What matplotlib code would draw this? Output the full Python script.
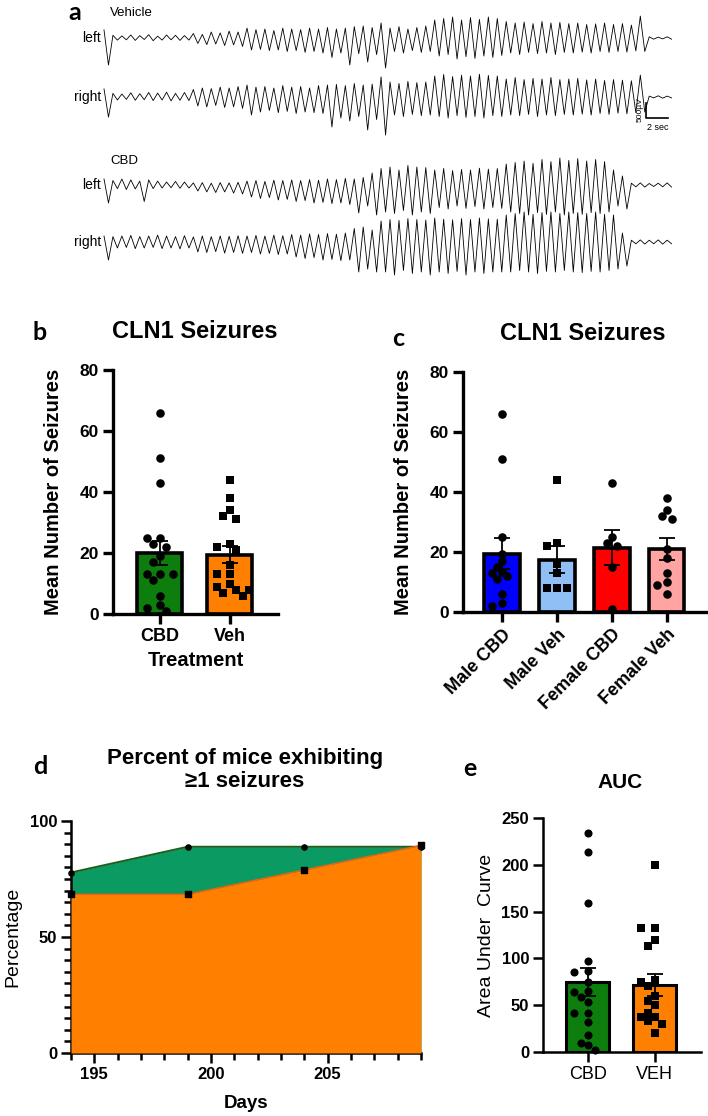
import numpy as np
import matplotlib
matplotlib.use("Agg")
import matplotlib.pyplot as plt
from matplotlib.ticker import MultipleLocator

plt.rcParams['font.family'] = ['Liberation Sans', 'DejaVu Sans']

W, H = 708, 1116

# ---------------- panel a: EEG envelopes, µV above / below baseline per slice
veh_left_up = [270, 90, 70, 100, 80, 110, 60, 100, 90, 80, 150, 120, 200, 170, 230, 200,
               330, 280, 300, 250, 330, 300, 280, 330, 300, 350, 300, 330, 380, 400, 350, 500,
               330, 380, 300, 350, 400, 600, 650, 700, 600, 680, 620, 700, 650, 550, 500, 530,
               480, 550, 500, 520, 480, 500, 450, 470, 500, 450, 480, 430, 730, 40, 30, 40]
veh_left_dn = [900, 70, 60, 80, 50, 90, 70, 60, 80, 70, 180, 220, 200, 250, 230, 280,
               400, 380, 420, 400, 450, 420, 480, 450, 500, 650, 500, 900, 520, 800, 550, 1000,
               450, 500, 420, 480, 450, 600, 550, 700, 620, 680, 600, 650, 580, 500, 550, 480,
               520, 500, 550, 480, 500, 470, 500, 450, 480, 450, 470, 430, 450, 40, 30, 40]
veh_right_up = [270, 120, 100, 140, 110, 150, 130, 160, 120, 150, 250, 300, 280, 330, 300, 350,
                400, 330, 350, 300, 380, 330, 350, 300, 380, 400, 420, 380, 450, 400, 430, 670,
                500, 450, 520, 480, 500, 700, 750, 680, 730, 700, 760, 720, 700, 600, 650, 580,
                620, 600, 650, 580, 600, 620, 570, 600, 550, 580, 560, 540, 730, 30, 40, 30]
veh_right_dn = [670, 100, 80, 110, 90, 120, 100, 130, 110, 120, 300, 330, 280, 350, 330, 380,
                600, 500, 450, 520, 480, 550, 500, 520, 550, 1000, 700, 800, 650, 1100, 750, 1270,
                600, 650, 580, 620, 600, 650, 700, 620, 680, 650, 700, 620, 650, 600, 620, 580,
                650, 600, 620, 580, 600, 570, 600, 550, 580, 540, 560, 520, 500, 30, 40, 30]
cbd_left_up = [200, 150, 200, 170, 130, 170, 130, 100, 120, 100, 70, 80, 60, 80, 70, 90,
               130, 150, 120, 160, 150, 170, 150, 180, 160, 200, 180, 220, 200, 250, 400, 550,
               600, 500, 650, 600, 580, 500, 550, 480, 520, 500, 560, 530, 550, 700, 750, 800,
               720, 850, 780, 900, 820, 880, 800, 850, 780, 500, 300, 60, 70, 50, 60, 70]
cbd_left_dn = [600, 120, 150, 130, 550, 120, 100, 90, 110, 100, 200, 230, 250, 230, 270, 300,
               400, 450, 420, 500, 480, 550, 520, 600, 580, 620, 600, 650, 930, 700, 1000, 900,
               950, 850, 1000, 900, 950, 750, 800, 700, 780, 720, 800, 750, 780, 900, 950, 1000,
               920, 980, 900, 1000, 950, 980, 920, 950, 900, 700, 800, 60, 70, 50, 60, 70]
cbd_right_up = [200, 180, 200, 220, 180, 200, 230, 200, 180, 210, 170, 200, 180, 200, 190, 210,
                200, 220, 200, 230, 210, 250, 230, 270, 250, 280, 260, 300, 450, 500, 400, 700,
                750, 720, 780, 750, 730, 800, 760, 740, 780, 750, 800, 770, 760, 900, 950, 1000,
                920, 980, 1000, 950, 1000, 980, 950, 1000, 920, 900, 300, 60, 70, 60, 70, 60]
cbd_right_dn = [600, 200, 180, 220, 200, 180, 220, 200, 230, 200, 330, 350, 320, 370, 350, 380,
                350, 400, 380, 420, 400, 500, 550, 520, 600, 580, 620, 600, 1000, 900, 1000, 1000,
                1100, 950, 1050, 1000, 1100, 1000, 1050, 980, 1100, 1000, 1050, 1000, 1000, 1000, 950, 1000,
                1050, 980, 1000, 950, 1000, 1020, 980, 1000, 950, 900, 800, 60, 70, 60, 70, 60]
TRACE_SEC = 51.6
SCALE_UV, SCALE_SEC = 500, 2

# ---------------- panel b
b_names = ['CBD', 'Veh']
b_means = [20.0, 19.5]
b_sems = [3.8, 2.8]
b_cbd = [66, 51, 43, 25, 25, 23, 22, 19, 17, 13, 13, 13, 11, 6, 3, 2, 1]
b_veh = [44, 38, 34, 32, 31, 23, 22, 21, 16, 13, 13, 10, 9, 8, 8, 7, 6]

# ---------------- panel c
c_names = ['Male CBD', 'Male Veh', 'Female CBD', 'Female Veh']
c_means = [19.5, 17.5, 21.5, 21.0]
c_sems = [5.3, 4.4, 5.7, 3.8]
c_male_cbd = [66, 51, 25, 19.5, 17, 15, 13.5, 13, 12, 11, 6, 3, 2]
c_male_veh = [44, 23, 22, 16, 13, 8, 8, 8]
c_female_cbd = [43, 25, 23, 22, 15, 1]
c_female_veh = [38, 34, 32, 31, 21, 18, 13, 10, 9, 6]

# ---------------- panel d
days = [194, 199, 204, 209]
cbd_pct = [77.8, 88.9, 88.9, 88.9]
veh_pct = [68.4, 68.4, 78.9, 89.5]

# ---------------- panel e
e_names = ['CBD', 'VEH']
e_means = [74.5, 72.0]
e_sems = [15.0, 11.7]
e_cbd = [234, 214, 159, 97, 87, 85, 75, 65, 64, 59, 53, 42, 42, 32, 18, 10, 7, 2]
e_veh = [200, 132, 132, 120, 113, 77, 75, 70, 60, 55, 50, 42, 37, 37, 33, 30, 20]

GREEN = '#0d7d0d'
ORANGE = '#ff8000'


def box(l, t, r, b):
    return [l / W, 1 - b / H, (r - l) / W, (b - t) / H]


fig = plt.figure(figsize=(W / 100, H / 100), dpi=100)


def ftext(x, y, s, **kw):
    fig.text(x / W, 1 - y / H, s, **kw)


def swarm(vals, ppx, ppy, step, diam):
    vals = np.asarray(vals, float)
    placed = []
    res = np.zeros(len(vals))
    for i in np.argsort(-vals, kind='stable'):
        y = vals[i] * ppy
        for k in [0, -1, 1, -2, 2, -3, 3, -4, 4, -5, 5]:
            x = k * step
            if all((x - px) ** 2 + (y - py) ** 2 >= diam ** 2 for px, py in placed):
                break
        placed.append((x, y))
        res[i] = x / ppx
    return res


def style(ax, lw, ticklen=7):
    for s in ['top', 'right']:
        ax.spines[s].set_visible(False)
    for s in ['left', 'bottom']:
        ax.spines[s].set_linewidth(lw)
    ax.tick_params(width=lw, length=ticklen, pad=3)


def bar_panel(ax, means, sems, groups, colors, markers, ppx, ppy, step, diam, ms, edge_lw):
    xs = np.arange(len(means))
    ax.bar(xs, means, width=0.64, color=colors, edgecolor='black', linewidth=edge_lw, zorder=1)
    ax.errorbar(xs, means, yerr=sems, fmt='none', ecolor='black', elinewidth=1.3,
                capsize=6, capthick=1.3, zorder=2)
    for x, g, m in zip(xs, groups, markers):
        off = swarm(g, ppx, ppy, step, diam)
        ax.scatter(x + off, g, s=ms, marker=m, color='black', linewidths=0, zorder=3, clip_on=False)


# ---------------- panel a
UV_PER_PX = SCALE_UV / 15.0
SEC_PX = 11.0
axa = fig.add_axes(box(100, 0, 680, 280))
axa.set_xlim((100 - 104) / SEC_PX, (680 - 104) / SEC_PX)
axa.set_ylim(-280 * UV_PER_PX, 0)
axa.axis('off')
traces = [(veh_left_up, veh_left_dn, 38), (veh_right_up, veh_right_dn, 97),
          (cbd_left_up, cbd_left_dn, 185), (cbd_right_up, cbd_right_dn, 242)]
for up, dn, row in traces:
    y = np.empty(2 * len(up))
    y[0::2] = up
    y[1::2] = -np.asarray(dn)
    t = np.linspace(0, TRACE_SEC, len(y))
    axa.plot(t, y - row * UV_PER_PX, color='black', lw=0.6)
sx = (646 - 104) / SEC_PX
sy = -118 * UV_PER_PX
axa.plot([sx, sx, sx + SCALE_SEC], [sy + SCALE_UV, sy, sy], color='black', lw=1.2)
ftext(640, 110, '500µV', fontsize=6, rotation=90, ha='center', va='center')
ftext(658, 127, '2 sec', fontsize=6.5, ha='center', va='center')
ftext(110, 13, 'Vehicle', fontsize=9.5, ha='left', va='center')
ftext(110, 161, 'CBD', fontsize=9.5, ha='left', va='center')
for lab, row in [('left', 38), ('right', 97), ('left', 185), ('right', 242)]:
    ftext(101, row, lab, fontsize=10, ha='right', va='center')

# panel letters
for letter, x, y in [('a', 75, 12), ('b', 40, 333), ('c', 398, 338), ('d', 40, 767), ('e', 470, 768)]:
    ftext(x, y, letter, fontsize=18, fontweight='bold', family='Lato', ha='center', va='center')

# ---------------- panel b
axb = fig.add_axes(box(113, 370, 278, 614))
bar_panel(axb, b_means, b_sems, [b_cbd, b_veh], [GREEN, ORANGE], ['o', 's'],
          70, 244 / 80, 6.5, 7.5, 38, 2.6)
axb.set_xlim(-0.67, 1.69)
axb.set_ylim(0, 80)
style(axb, 2.4)
axb.set_yticks([0, 20, 40, 60, 80], [str(v) for v in [0, 20, 40, 60, 80]], fontsize=12.5, fontweight='bold')
axb.set_xticks([0, 1], b_names, fontsize=13, fontweight='bold')
axb.set_ylabel('Mean Number of Seizures', fontsize=14.5, fontweight='bold')
axb.yaxis.set_label_coords((63 - 113) / 165, 0.5)
axb.set_xlabel('Treatment', fontsize=14.5, fontweight='bold', va='top')
axb.xaxis.set_label_coords(0.5, -(651 - 614) / 244)
ftext(195, 332, 'CLN1 Seizures', fontsize=17, fontweight='bold', ha='center', va='center')

# ---------------- panel c
axc = fig.add_axes(box(463, 372, 707, 612))
bar_panel(axc, c_means, c_sems, [c_male_cbd, c_male_veh, c_female_cbd, c_female_veh],
          ['#0000ff', '#8fbff5', '#ff0000', '#ffa3a3'], ['o', 's', 'o', 'o'],
          55, 240 / 80, 5, 6.5, 38, 2.6)
axc.set_xlim(-0.71, 3.73)
axc.set_ylim(0, 80)
style(axc, 2.4)
axc.set_yticks([0, 20, 40, 60, 80], [str(v) for v in [0, 20, 40, 60, 80]], fontsize=12.5, fontweight='bold')
axc.set_xticks(range(4), c_names, fontsize=13, fontweight='bold', rotation=45,
               ha='right', va='top', rotation_mode='anchor')
axc.set_ylabel('Mean Number of Seizures', fontsize=14.5, fontweight='bold')
axc.yaxis.set_label_coords((413 - 463) / 244, 0.5)
ftext(583, 334, 'CLN1 Seizures', fontsize=17, fontweight='bold', ha='center', va='center')

# ---------------- panel d
axd = fig.add_axes(box(71, 821, 421, 1053))
axd.fill_between(days, cbd_pct, color='#0c9a63', lw=0, zorder=1)
axd.plot(days, cbd_pct, color='#1d5e1d', lw=1.4, zorder=2)
axd.fill_between(days, veh_pct, color=ORANGE, lw=0, zorder=3)
axd.plot(days, veh_pct, color='#f06010', lw=1.0, zorder=4)
axd.scatter(days, cbd_pct, s=14, marker='o', color='black', zorder=5, clip_on=False)
axd.scatter(days, veh_pct, s=22, marker='s', color='black', zorder=6, clip_on=False)
axd.set_xlim(194, 209)
axd.set_ylim(0, 100)
style(axd, 1.8, 7)
axd.xaxis.set_minor_locator(MultipleLocator(1))
axd.yaxis.set_minor_locator(MultipleLocator(5))
axd.tick_params(which='minor', width=1.8, length=5)
axd.set_xticks([195, 200, 205], ['195', '200', '205'], fontsize=12, fontweight='bold')
axd.set_yticks([0, 50, 100], ['0', '50', '100'], fontsize=12, fontweight='bold')
axd.set_ylabel('Percentage', fontsize=14)
axd.yaxis.set_label_coords((21 - 71) / 350, 0.5)
axd.set_xlabel('Days', fontsize=13.5, fontweight='bold', va='top')
axd.xaxis.set_label_coords(0.5, -(1095 - 1053) / 232)
ftext(245, 770, 'Percent of mice exhibiting\n≥1 seizures', fontsize=16, fontweight='bold',
      ha='center', va='center', linespacing=1.1)

# ---------------- panel e
axe = fig.add_axes(box(543, 818, 701, 1052))
bar_panel(axe, e_means, e_sems, [e_cbd, e_veh], [GREEN, ORANGE], ['o', 's'],
          67, 234 / 250, 7, 7.5, 34, 2.2)
axe.set_xlim(-0.67, 1.69)
axe.set_ylim(0, 250)
style(axe, 1.8)
axe.set_yticks(range(0, 251, 50), [str(v) for v in range(0, 251, 50)], fontsize=12, fontweight='bold')
axe.set_xticks([0, 1], e_names, fontsize=13)
axe.set_ylabel('Area Under  Curve', fontsize=14)
axe.yaxis.set_label_coords((495 - 543) / 158, 0.5)
ftext(620, 782, 'AUC', fontsize=15, fontweight='bold', ha='center', va='center')

fig.savefig('out.png', dpi=100)
